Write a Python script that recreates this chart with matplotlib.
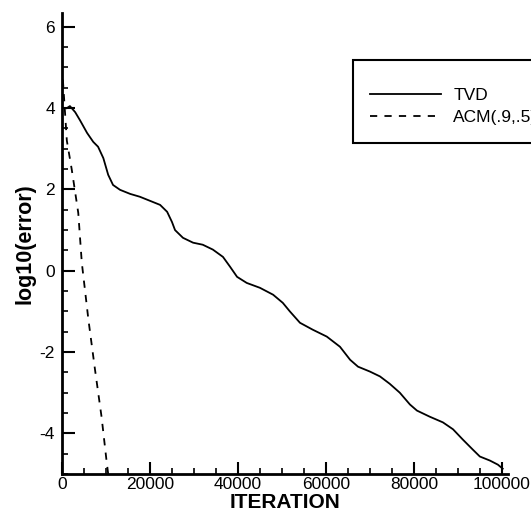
import matplotlib
matplotlib.use("Agg")
import matplotlib.pyplot as plt
from matplotlib.ticker import MultipleLocator

plt.rcParams['font.family'] = ['Liberation Sans', 'DejaVu Sans']
plt.rcParams['axes.unicode_minus'] = False

# TVD residual history
tvd_iter = [1100, 1800, 3000, 4100, 5700, 7100, 8200, 9400, 10500, 11600,
            13200, 15500, 17700, 20000, 22300, 23900, 25000, 25700, 27500,
            29800, 32000, 34300, 36600, 38200, 39800, 42000, 45000, 48000,
            50200, 51800, 54100, 57000, 60200, 63200, 65500, 67300, 70000,
            72300, 74500, 76800, 79100, 80700, 83600, 86600, 88900, 91100,
            93400, 95000, 97300, 99100, 100200]
tvd_err = [4.0, 4.05, 3.9, 3.7, 3.39, 3.17, 3.05, 2.77, 2.36, 2.11,
           1.99, 1.89, 1.82, 1.72, 1.62, 1.45, 1.2, 1.0, 0.81,
           0.69, 0.64, 0.52, 0.34, 0.1, -0.15, -0.3, -0.42, -0.59,
           -0.79, -1.0, -1.28, -1.45, -1.62, -1.87, -2.19, -2.36, -2.48,
           -2.6, -2.78, -3.0, -3.29, -3.44, -3.59, -3.73, -3.9, -4.15,
           -4.4, -4.57, -4.67, -4.77, -4.87]

# ACM(.9,.5) residual history
acm_iter = [200, 1100, 2200, 2900, 3700, 4500, 6000, 7500, 9000, 10100, 10500]
acm_err = [4.7, 3.2, 2.5, 2.0, 1.42, 0.2, -1.2, -2.43, -3.6, -4.65, -5.0]

fig = plt.figure(figsize=(5.31, 5.2), dpi=100)
ax = fig.add_axes([62/531, 1-474/520, 446/531, 461/520])

ax.plot(tvd_iter, tvd_err, color="black", lw=1.3, label="TVD")
ax.plot(acm_iter, acm_err, color="black", lw=1.3, ls=(0, (4, 4)), label="ACM(.9,.5)")

ax.set_xlim(0, 101400)
ax.set_ylim(-5, 6.34)
ax.set_xticks([0, 20000, 40000, 60000, 80000, 100000])
ax.set_yticks([-4, -2, 0, 2, 4, 6])
ax.xaxis.set_minor_locator(MultipleLocator(5000))
ax.yaxis.set_minor_locator(MultipleLocator(0.5))

for s in ["top", "right"]:
    ax.spines[s].set_visible(False)
for s in ["left", "bottom"]:
    ax.spines[s].set_linewidth(2)

ax.tick_params(axis="both", which="major", direction="in", length=9, width=1.5, labelsize=12.5)
ax.tick_params(axis="both", which="minor", direction="in", length=4.5, width=1.2)
ax.tick_params(axis="y", which="major", pad=5)
ax.tick_params(axis="x", which="major", pad=2)

ax.set_xlabel("ITERATION", fontsize=15, fontweight="bold", labelpad=1)
ax.set_ylabel("log10(error)", fontsize=15.5, fontweight="bold", labelpad=3)

leg = ax.legend(loc="upper left", bbox_to_anchor=(353/531, 1-60/520),
                bbox_transform=fig.transFigure, fancybox=False, framealpha=1,
                edgecolor="black", fontsize=12.5, handlelength=4.08,
                handletextpad=0.69, borderpad=1.0, labelspacing=0.39,
                borderaxespad=0, handleheight=0.7,
                title=" ", title_fontsize=3)
leg.get_frame().set_linewidth(1.5)

plt.savefig("out.png")
